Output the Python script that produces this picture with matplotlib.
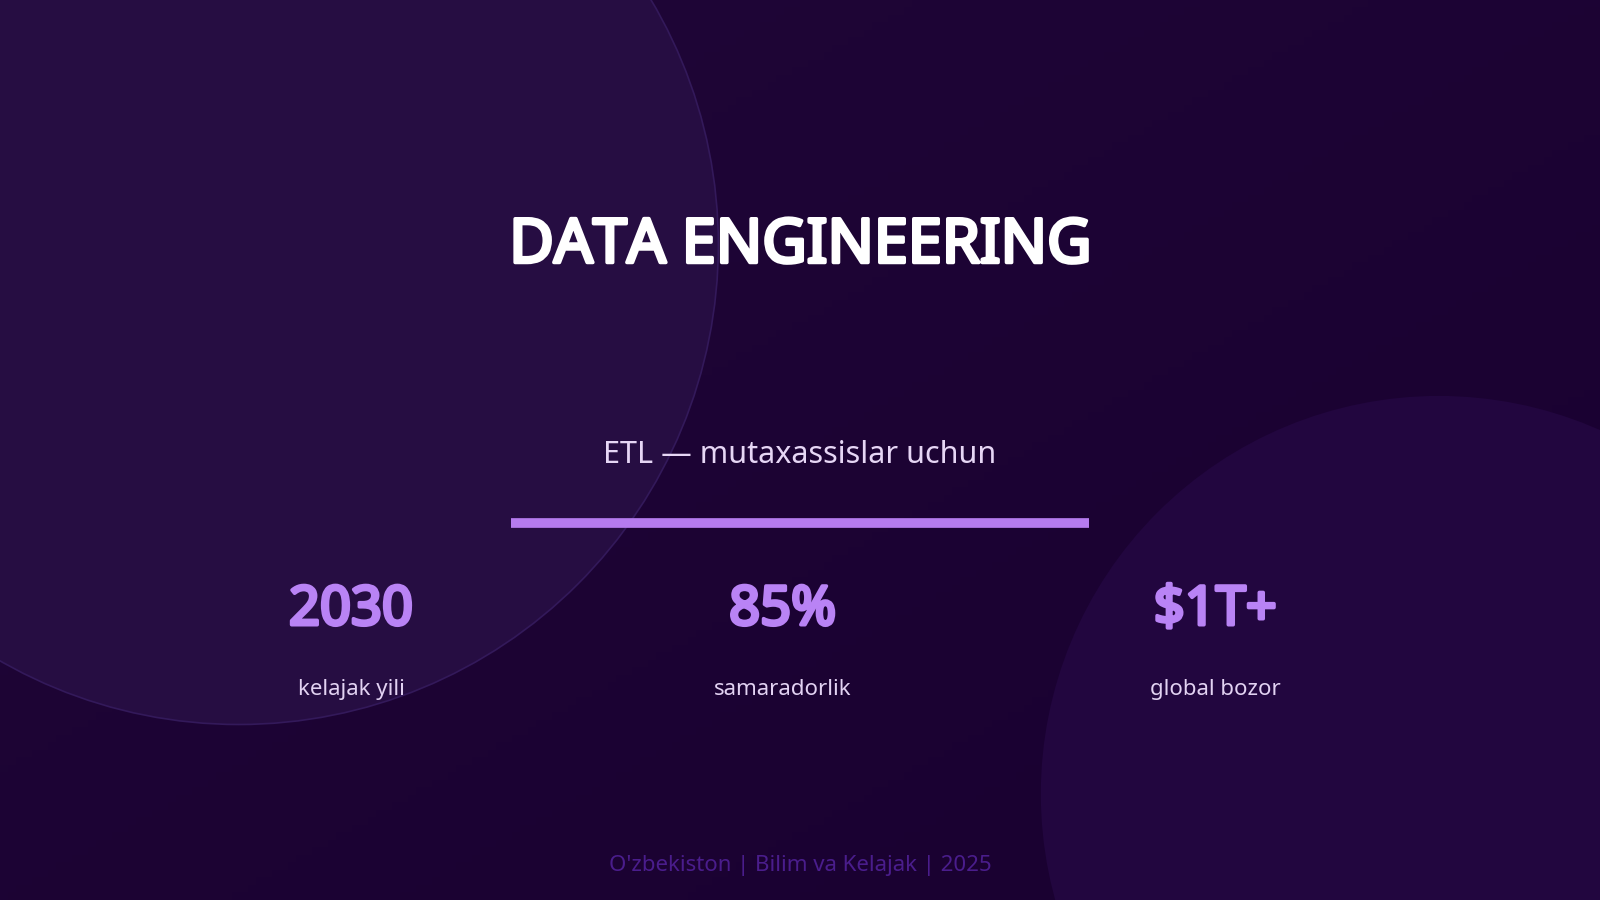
import matplotlib
matplotlib.use("Agg")
import matplotlib.pyplot as plt
import numpy as np
from matplotlib.patches import Circle
import matplotlib.patheffects as pe

title = "DATA ENGINEERING"
subtitle = "ETL — mutaxassislar uchun"
stat_values = ["2030", "85%", "$1T+"]
stat_labels = ["kelajak yili", "samaradorlik", "global bozor"]
footer = "O'zbekiston | Bilim va Kelajak | 2025"

W, H = 1568, 882
fig = plt.figure(figsize=(16, 9), dpi=100)
ax = fig.add_axes([0, 0, 1, 1])
ax.set_xlim(0, W); ax.set_ylim(H, 0); ax.axis("off")

c1 = np.array([0x20, 0x07, 0x38]) / 255
c2 = np.array([0x19, 0x00, 0x30]) / 255
xx, yy = np.meshgrid(np.linspace(0, 1, 200), np.linspace(0, 1, 120))
t = np.clip((xx + yy) / 2, 0, 1)[..., None]
img = c1 * (1 - t) + c2 * t
ax.imshow(img, extent=[0, W, H, 0], aspect="auto", zorder=0)

ax.add_patch(Circle((234, 240), 470, facecolor="#260d42", edgecolor="#33195a", lw=1.2, zorder=1))
ax.add_patch(Circle((1410, 778), 390, facecolor="#22063f", edgecolor="none", zorder=1))

fam = ["Noto Sans", "DejaVu Sans"]

def bold(color, w):
    return [pe.Stroke(linewidth=w, foreground=color), pe.Normal()]

ax.text(784, 242, title, ha="center", va="center", fontsize=44, fontweight="bold", color="white",
        family=fam, zorder=3, path_effects=bold("white", 2.6))
ax.text(784, 446, subtitle, ha="center", va="center", fontsize=22, color="#e6d6f5", family=fam, zorder=3)
ax.plot([501, 1067], [513, 513], color="#b57bee", lw=7, solid_capstyle="butt", zorder=3)

xs = [344, 767, 1191]
for x, v, l in zip(xs, stat_values, stat_labels):
    ax.text(x, 598, v, ha="center", va="center", fontsize=39, fontweight="bold", color="#b983f5",
            family=fam, zorder=3, path_effects=bold("#b983f5", 2.6))
    ax.text(x, 676, l, ha="center", va="center", fontsize=16, color="#e2d2f2", family=fam, zorder=3)

ax.text(784, 848, footer, ha="center", va="center", fontsize=16, color="#4a1d8c", family=fam, zorder=3)

fig.savefig("out.png", dpi=100)
